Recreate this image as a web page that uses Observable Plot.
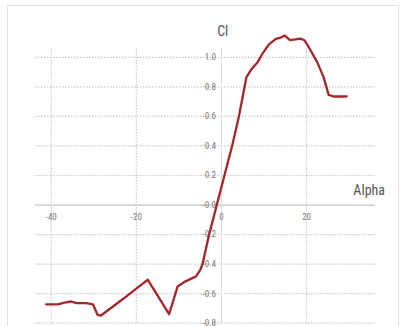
<!DOCTYPE html>
<html>
<head>
<meta charset="utf-8">
<script src="https://cdn.jsdelivr.net/npm/d3@7"></script>
<script src="https://cdn.jsdelivr.net/npm/@observablehq/plot@0.6"></script>
<style>
  html, body { margin: 0; padding: 0; background: #fff; }
  #wrap { position: relative; width: 404px; height: 326px; overflow: hidden; }
  #frame { position: absolute; left: 7px; top: 5px; width: 392px; height: 340px; border: 1.5px solid #e0e0e0; box-sizing: border-box; }
  #chart { position: absolute; left: 0; top: 0; }
</style>
</head>
<body>
<div id="wrap"><div id="frame"></div><div id="chart"></div></div>
<script>
const alpha = [-41.2, -38.4, -36.9, -35.3, -34.1, -31.8, -30.2, -29.1, -28.3, -23.0, -20.1, -17.3, -12.3, -10.3, -8.8, -6.0, -5.0, -4.45, -2.9, -1.1, 0.7, 2.5, 4.1, 5.85, 6.9, 8.45, 9.6, 11.2, 12.8, 13.9, 14.9, 16.1, 17.4, 18.6, 19.5, 20.5, 22.5, 24.0, 25.2, 26.4, 29.4];
const cl = [-0.672, -0.672, -0.66, -0.653, -0.664, -0.664, -0.672, -0.744, -0.748, -0.633, -0.567, -0.506, -0.739, -0.551, -0.522, -0.483, -0.44, -0.4, -0.2, 0, 0.2, 0.4, 0.6, 0.864, 0.914, 0.966, 1.023, 1.09, 1.125, 1.134, 1.147, 1.116, 1.122, 1.127, 1.116, 1.07, 0.968, 0.866, 0.746, 0.735, 0.735];
const xTicks = [-40, -20, 0, 20];
const yTicks = [-0.8, -0.6, -0.4, -0.2, 0, 0.2, 0.4, 0.6, 0.8, 1.0];
const yTickLabels = ["-0.8", "-0.6", "-0.4", "-0.2", "-0.0", "0.2", "0.4", "0.6", "0.8", "1.0"];
const xTitle = "Alpha";
const yTitle = "Cl";

const data = alpha.map((a, i) => ({alpha: a, cl: cl[i]}));
const font = "'Liberation Sans Narrow', 'Roboto Condensed', 'Liberation Sans', sans-serif";

const chart = Plot.plot({
  width: 404,
  height: 326,
  marginLeft: 35,
  marginRight: 29,
  marginTop: 48,
  marginBottom: 3.3,
  style: {background: "transparent", fontFamily: font, overflow: "visible"},
  x: {domain: [-43.7, 36.2], axis: null},
  y: {domain: [-0.8, 1.06], axis: null},
  marks: [
    Plot.ruleY(yTicks.filter(d => d !== 0), {stroke: "#c8c8c8", strokeWidth: 1.2, strokeDasharray: "1.5,1.5"}),
    Plot.ruleX(xTicks.filter(d => d !== 0), {stroke: "#c8c8c8", strokeWidth: 1.2, strokeDasharray: "1.5,1.5"}),
    Plot.ruleX([0], {stroke: "#dcdcdc", strokeWidth: 1}),
    Plot.ruleY([0], {stroke: "#c4c4c4", strokeWidth: 1.2}),
    Plot.text(xTicks, {x: d => d, y: 0, text: d => String(d), dy: 12, fill: "#777", fontSize: 9}),
    Plot.text(yTicks, {x: 0, y: d => d, text: (d, i) => yTickLabels[i], dx: -5.5, textAnchor: "end", fill: "#777", fontSize: 9}),
    Plot.line(data, {x: "alpha", y: "cl", stroke: "#a3262a", strokeWidth: 2.3, strokeLinejoin: "round"}),
    Plot.text([yTitle], {x: 0.3, y: 1.144, text: d => d, lineAnchor: "bottom", fill: "#555", fontSize: 14}),
    Plot.text([xTitle], {x: 31.0, y: 0.068, text: d => d, lineAnchor: "bottom", textAnchor: "start", fill: "#555", fontSize: 14})
  ]
});
document.getElementById("chart").appendChild(chart);
</script>
</body>
</html>
